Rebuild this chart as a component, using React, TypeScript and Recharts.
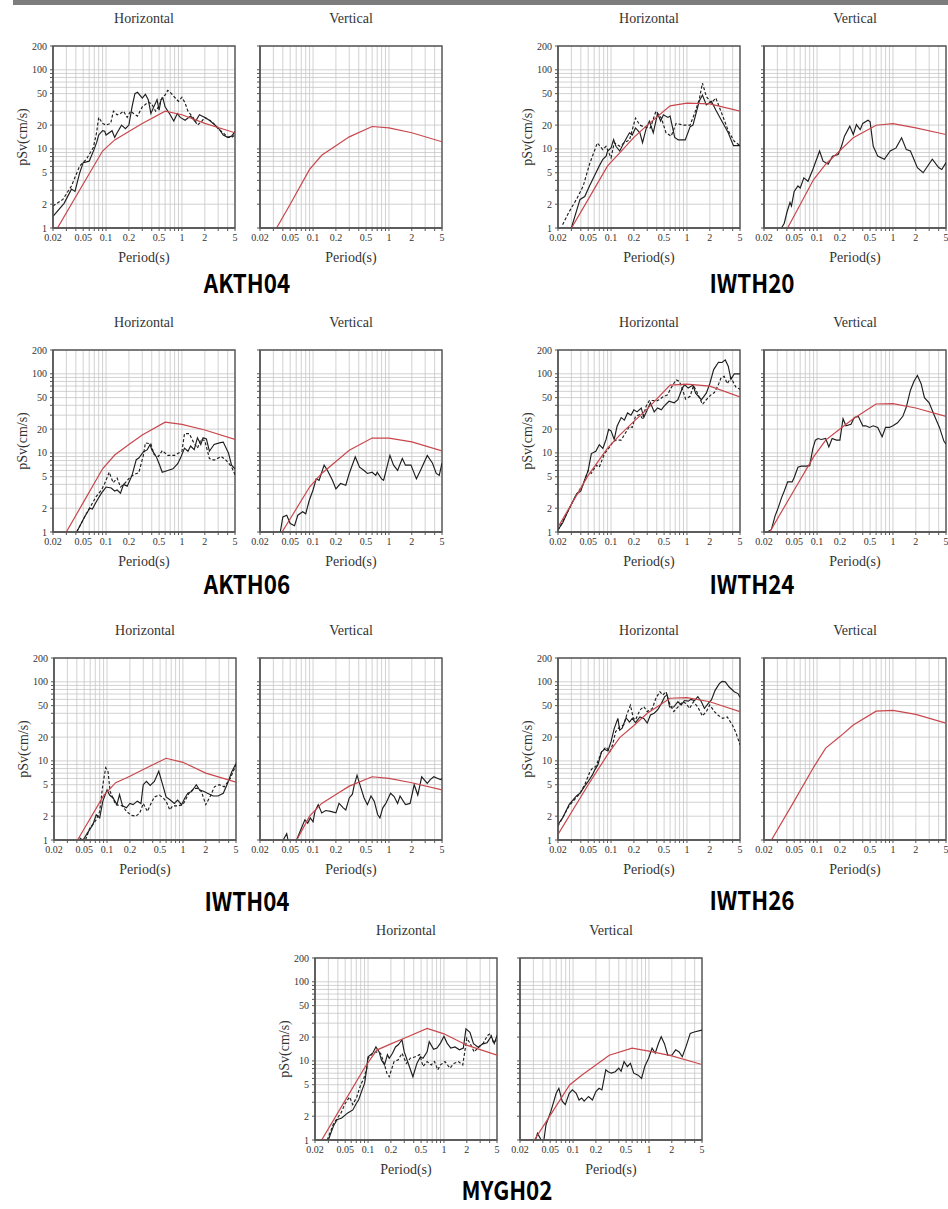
import { LineChart, Line, XAxis, YAxis, CartesianGrid, ReferenceArea } from "recharts";

type Pt = [number, number];

const SERIF = '"Liberation Serif", "DejaVu Serif", serif';
const GOTHIC = '"Noto Sans CJK JP", "Noto Sans", sans-serif';

// axes (log-log)
const X_GRID = [0.02, 0.03, 0.04, 0.05, 0.06, 0.07, 0.08, 0.09, 0.1, 0.2, 0.3, 0.4, 0.5, 0.6, 0.7, 0.8, 0.9, 1, 2, 3, 4, 5];
const X_LABELS = [0.02, 0.05, 0.1, 0.2, 0.5, 1, 2, 5];
const Y_GRID = [1, 2, 3, 4, 5, 6, 7, 8, 9, 10, 20, 30, 40, 50, 60, 70, 80, 90, 100, 200];
const Y_LABELS = [1, 2, 5, 10, 20, 50, 100, 200];

// model spectra (red), shared periods
const RED_T = [0.02, 0.05, 0.09, 0.13, 0.2, 0.3, 0.6, 1, 2, 5];
const AKTH04_H_RED = [0.8, 3.6, 9.4, 13, 16.6, 21, 30, 27, 21, 16];
const AKTH04_V_RED = [0.43, 2.0, 5.5, 8.3, 11, 14.2, 19.2, 18.4, 16, 12.3];
const IWTH20_H_RED = [0.51, 2.3, 6.1, 8.9, 14, 20, 35, 38, 37, 30];
const IWTH20_V_RED = [0.28, 1.43, 4.1, 6.4, 9.5, 13.8, 19.9, 20.9, 18.4, 15.2];
const AKTH06_H_RED = [0.51, 2.35, 6.3, 9.4, 12.8, 16.8, 24.5, 23, 19.5, 14.8];
const AKTH06_V_RED = [0.35, 1.47, 3.7, 5.5, 7.8, 10.8, 15.4, 15.4, 13.8, 10.6];
const IWTH24_H_RED = [1.15, 5.2, 11.5, 16.8, 25, 36, 72, 74, 70, 51];
const IWTH24_V_RED = [0.75, 3.4, 8.9, 14.5, 20, 27, 41.5, 42, 37, 29];
const IWTH04_H_RED = [0.31, 1.39, 3.63, 5.3, 6.4, 7.8, 10.8, 9.6, 7, 5.4];
const IWTH04_V_RED = [0.14, 0.7, 2.0, 2.9, 3.76, 4.8, 6.3, 6, 5.3, 4.3];
const IWTH26_H_RED = [1.18, 5, 12, 19.7, 28, 40, 62, 63, 56, 42];
const IWTH26_V_RED = [0.69, 3.1, 8.3, 14.5, 20.3, 28.5, 42.6, 43.5, 38.7, 30];
const MYGH02_H_RED = [0.72, 3.17, 8.2, 13.7, 16.4, 19.3, 25.7, 22, 15.8, 11.8];
const MYGH02_V_RED = [0.52, 2.05, 4.96, 6.6, 8.9, 11.8, 14.5, 13.3, 11.6, 9];

// observed spectra: [period, pSv]
const AKTH04_H1: Pt[] = [[0.02,1.4],[0.028,2.05],[0.035,3.1],[0.039,2.9],[0.045,5],[0.05,6.7],[0.06,7],[0.07,10],[0.075,12],[0.08,15],[0.09,17],[0.096,16.7],[0.1,15],[0.12,17],[0.13,14],[0.14,16],[0.16,20],[0.18,18],[0.2,20],[0.22,34],[0.24,50],[0.26,52],[0.3,44],[0.33,49],[0.36,42],[0.39,28],[0.42,33],[0.47,42],[0.5,31],[0.53,42],[0.56,44],[0.6,34],[0.7,27],[0.78,22.5],[0.87,28],[0.95,25],[1.1,23],[1.3,26],[1.5,22],[1.7,27],[2,25],[2.3,23],[3,18.5],[3.5,15],[4,14],[4.5,14.5],[5,16.5]];
const AKTH04_H2: Pt[] = [[0.02,1.9],[0.027,2.3],[0.035,3.4],[0.045,6.1],[0.055,7.4],[0.068,10.4],[0.075,16],[0.08,25],[0.09,21],[0.1,20],[0.115,21],[0.125,30],[0.14,27],[0.155,28],[0.17,30],[0.19,25],[0.21,30],[0.23,28],[0.26,26],[0.3,34],[0.36,39],[0.4,37],[0.45,30],[0.5,35],[0.55,45],[0.6,48],[0.65,55],[0.7,52],[0.8,45],[0.9,40],[1,45],[1.1,38],[1.2,30],[1.4,25],[1.6,20],[1.8,22],[2,25],[2.5,22],[3,18],[3.5,16],[4,14],[4.5,14],[5,15]];

const IWTH20_H1: Pt[] = [[0.03,1],[0.039,2.3],[0.045,2.5],[0.052,3.4],[0.06,4.5],[0.07,6.1],[0.078,7.4],[0.086,8.1],[0.09,9.4],[0.1,10.3],[0.108,13.1],[0.116,10.8],[0.13,9.4],[0.14,10.8],[0.16,13.7],[0.175,16],[0.19,15],[0.21,18.4],[0.24,16],[0.26,12],[0.29,18],[0.32,22.5],[0.36,16],[0.41,28],[0.45,22.5],[0.49,27],[0.56,25],[0.6,26],[0.69,14],[0.77,13],[0.95,13],[1.1,19],[1.2,20],[1.45,40],[1.6,48],[1.8,36],[2.1,40],[2.4,31],[3,21],[3.5,16],[4.1,11],[5,11]];
const IWTH20_H2: Pt[] = [[0.023,1.1],[0.028,1.6],[0.035,2.3],[0.043,3.4],[0.052,6.4],[0.066,11.9],[0.078,9.8],[0.086,10.8],[0.1,7.7],[0.11,12],[0.13,10.8],[0.15,12],[0.175,13],[0.21,24.5],[0.24,20],[0.27,19],[0.33,18.4],[0.39,30],[0.46,24.5],[0.53,16],[0.62,14.5],[0.72,21],[0.9,20],[1.1,20],[1.26,28],[1.45,42],[1.6,68],[1.8,46],[2.1,38],[2.4,44],[2.8,30],[3.5,17],[4.2,12.5],[5,11]];
const IWTH20_V1: Pt[] = [[0.034,1],[0.037,1.15],[0.04,1.57],[0.044,2.1],[0.046,1.9],[0.05,2.9],[0.056,3.4],[0.06,3.2],[0.067,4.3],[0.076,3.9],[0.088,5.5],[0.108,9.4],[0.12,7],[0.14,6.4],[0.16,8.1],[0.19,8.5],[0.21,10.8],[0.23,14.5],[0.27,19.4],[0.3,15.2],[0.33,20.3],[0.37,17.5],[0.4,21],[0.47,23],[0.5,22],[0.55,10.8],[0.63,8.1],[0.77,7.4],[0.92,9.4],[1.1,10.3],[1.3,13.8],[1.5,9.8],[1.7,9.4],[2.1,5.8],[2.5,5],[3.3,7.4],[4,5.8],[4.4,5.5],[5,6.7]];

const AKTH06_H1: Pt[] = [[0.041,1],[0.045,1.18],[0.052,1.55],[0.061,2],[0.066,1.95],[0.074,2.4],[0.087,3.1],[0.1,3.7],[0.117,3.6],[0.13,3.3],[0.14,3.4],[0.155,3.1],[0.17,4],[0.19,3.8],[0.22,5.2],[0.25,8.2],[0.27,8.6],[0.31,10.3],[0.35,11],[0.38,12.8],[0.4,11],[0.46,8.9],[0.5,7.3],[0.55,5.7],[0.65,6],[0.76,6.3],[0.88,7.3],[0.97,8.9],[1.08,11.5],[1.2,10.5],[1.3,12.2],[1.45,11],[1.6,15.5],[1.77,12.8],[1.9,15.5],[2.1,15],[2.3,10.5],[2.65,12.8],[3.2,13.5],[3.5,13.7],[4.1,10],[4.5,7],[5,6.3]];
const AKTH06_H2: Pt[] = [[0.041,1],[0.055,1.7],[0.074,2.8],[0.087,3.4],[0.095,4],[0.11,5.7],[0.124,4.2],[0.14,4.8],[0.155,3.7],[0.18,4.2],[0.21,5],[0.24,5.4],[0.27,5.6],[0.31,9.3],[0.33,13.4],[0.39,13],[0.43,9.5],[0.49,9],[0.55,10.7],[0.65,9.3],[0.8,9.3],[1,10.5],[1.08,17.5],[1.25,17.5],[1.4,14],[1.6,11.5],[1.78,14.8],[2,14.3],[2.3,8.5],[2.65,8.1],[3.3,9],[3.8,8.1],[4.5,6.7],[5,5.3]];
const AKTH06_V1: Pt[] = [[0.037,1],[0.04,1.55],[0.045,1.63],[0.05,1.28],[0.057,1.2],[0.063,1.63],[0.073,1.8],[0.08,1.7],[0.089,2.5],[0.1,3.4],[0.11,4.7],[0.12,4.5],[0.14,7],[0.155,6],[0.18,4.5],[0.2,3.5],[0.23,4.1],[0.27,3.9],[0.3,5.5],[0.36,8.9],[0.41,6.6],[0.47,6],[0.52,5.5],[0.6,5.7],[0.67,5.2],[0.7,5.7],[0.8,4.7],[0.85,4.5],[1.03,9.3],[1.15,7],[1.3,6],[1.5,8.5],[1.65,7],[1.95,7],[2.3,4.7],[2.6,6],[3.2,9.3],[3.75,7.4],[4.2,5.5],[4.6,5.2],[5,7.4]];

const IWTH24_H1: Pt[] = [[0.02,1.07],[0.023,1.3],[0.028,1.97],[0.035,3],[0.04,3.3],[0.045,4.6],[0.05,6],[0.055,9.8],[0.063,10.5],[0.07,12.7],[0.078,11.4],[0.086,14.8],[0.093,19.8],[0.1,19],[0.11,14.8],[0.12,21.7],[0.136,28],[0.15,26],[0.165,32],[0.183,30],[0.2,35],[0.22,33],[0.25,37],[0.27,28],[0.3,35],[0.33,43],[0.37,33],[0.41,37],[0.46,35],[0.5,39],[0.58,45],[0.68,43],[0.76,47],[0.87,66],[0.93,73],[1.04,66],[1.2,72],[1.3,57],[1.55,47],[1.8,57],[2,75],[2.25,113],[2.6,140],[2.9,139],[3.2,150],[3.5,125],[3.8,85],[4.2,100],[5,100]];
const IWTH24_H2: Pt[] = [[0.02,1.05],[0.026,1.7],[0.035,3],[0.043,4],[0.05,6],[0.055,5.5],[0.064,7],[0.07,6.6],[0.082,9.8],[0.096,11.9],[0.106,13.8],[0.116,14.5],[0.136,14.5],[0.15,17],[0.175,21.7],[0.19,21],[0.21,29],[0.24,30.6],[0.26,27],[0.29,39],[0.32,46],[0.36,46],[0.39,45],[0.43,47],[0.48,51],[0.55,54],[0.65,72],[0.72,84],[0.8,80],[0.9,58],[0.96,48],[1.1,52],[1.22,71],[1.34,60],[1.6,41],[1.8,47],[2.1,55],[2.3,58],[2.6,73],[2.8,88],[3.1,93],[3.4,75],[3.8,90],[4.4,68],[5,64]];
const IWTH24_V1: Pt[] = [[0.022,1],[0.025,1.07],[0.028,1.6],[0.031,2.06],[0.034,2.7],[0.037,3.3],[0.041,4.3],[0.047,4.3],[0.05,4.9],[0.056,6.6],[0.062,6.8],[0.072,6.8],[0.08,6.9],[0.088,11.3],[0.095,14.5],[0.103,15.2],[0.114,14.8],[0.13,15.2],[0.143,11.9],[0.158,15.2],[0.18,14.5],[0.2,14.5],[0.22,27],[0.24,22],[0.28,23],[0.31,28],[0.35,29],[0.4,22],[0.44,22],[0.49,21],[0.55,22],[0.63,21],[0.72,16],[0.8,21],[0.9,21],[1,22],[1.15,24],[1.35,29],[1.5,38],[1.7,62],[1.9,81],[2.1,95],[2.35,75],[2.6,50],[3,43],[3.5,30],[4.1,21],[4.7,14],[5,13]];

const IWTH04_H1: Pt[] = [[0.043,1.08],[0.047,1],[0.05,1.05],[0.055,1.22],[0.065,1.56],[0.072,2.08],[0.08,1.9],[0.088,3.1],[0.1,4.3],[0.108,3.7],[0.12,3.4],[0.135,2.8],[0.146,3.75],[0.16,2.7],[0.18,2.55],[0.2,2.9],[0.22,2.8],[0.25,3.1],[0.28,2.9],[0.3,5],[0.33,5.5],[0.37,4.9],[0.42,5.5],[0.48,7.4],[0.54,5],[0.6,3.5],[0.68,3.2],[0.77,2.9],[0.85,3.2],[0.96,2.8],[1.06,3.4],[1.16,3.9],[1.3,4.1],[1.5,5],[1.65,4.3],[1.9,4.1],[2.1,3.9],[2.5,3.6],[2.9,3.6],[3.4,3.9],[3.9,5.3],[4.4,7.3],[5,9.3]];
const IWTH04_H2: Pt[] = [[0.045,1],[0.052,1],[0.059,1.4],[0.072,1.8],[0.08,2.3],[0.088,5],[0.096,8.2],[0.103,7.3],[0.11,4.1],[0.13,2.8],[0.16,2.7],[0.18,2.3],[0.21,2.05],[0.24,2],[0.27,2.2],[0.3,2.9],[0.34,2.3],[0.38,2.9],[0.42,3.5],[0.49,3.7],[0.55,3.4],[0.6,3.1],[0.67,2.4],[0.73,2.7],[0.86,2.7],[1,2.8],[1.2,3.9],[1.4,4.5],[1.55,4.5],[1.75,4.1],[2,2.8],[2.3,3.6],[2.6,4.7],[3,5],[3.5,4.7],[4.2,6],[5,8.9]];
const IWTH04_V1: Pt[] = [[0.038,0.9],[0.045,1.2],[0.049,0.8],[0.055,0.75],[0.062,1.05],[0.07,1.4],[0.078,1.8],[0.085,1.63],[0.092,1.9],[0.1,1.7],[0.106,2.3],[0.117,2.8],[0.13,2.2],[0.147,2.36],[0.17,2.3],[0.2,2.2],[0.22,2.9],[0.25,2.55],[0.27,2.4],[0.3,3.4],[0.33,3.8],[0.35,5],[0.38,6.6],[0.42,4.8],[0.47,3.4],[0.52,2.8],[0.58,3.6],[0.64,3.1],[0.71,2.1],[0.76,1.9],[0.83,2.55],[0.91,2.9],[1.05,3.9],[1.17,3.55],[1.3,2.9],[1.4,3.6],[1.65,2.8],[1.9,2.9],[2.15,5],[2.4,3.7],[2.7,6.3],[3.2,5.2],[3.5,5.8],[3.9,6.3],[4.4,6],[4.8,5.8],[5,6]];

const IWTH26_H1: Pt[] = [[0.02,1.57],[0.023,1.9],[0.028,2.8],[0.035,3.6],[0.039,3.9],[0.045,4.8],[0.05,5.5],[0.057,6.7],[0.061,7.7],[0.067,8.9],[0.075,13],[0.082,14],[0.091,13.4],[0.1,17.5],[0.11,25.6],[0.123,34.5],[0.13,24.5],[0.14,26],[0.158,35],[0.175,31],[0.19,34.5],[0.21,30.5],[0.24,36],[0.27,34.5],[0.3,30],[0.33,38],[0.37,40],[0.41,44],[0.46,53],[0.51,65],[0.55,68],[0.59,48],[0.67,48],[0.76,56],[0.84,51],[0.93,58],[1.04,57],[1.13,60],[1.26,58],[1.39,65],[1.55,56],[1.7,46],[1.9,53],[2.1,59],[2.35,78],[2.67,95],[2.9,101],[3.2,100],[3.6,86],[4.2,75],[4.7,71],[5,64]];
const IWTH26_H2: Pt[] = [[0.02,1.5],[0.028,2.7],[0.039,3.9],[0.045,5],[0.053,7.4],[0.057,8.1],[0.063,8.5],[0.075,13],[0.086,15],[0.096,13],[0.105,16],[0.115,23.5],[0.13,27],[0.147,28.5],[0.16,37.7],[0.18,50.6],[0.197,34.5],[0.21,33],[0.24,44],[0.27,48.5],[0.3,42],[0.35,46],[0.39,62],[0.44,75],[0.48,68],[0.53,75],[0.59,53],[0.67,42],[0.76,48],[0.88,56],[0.98,53],[1.08,46],[1.22,56],[1.39,48],[1.6,37],[1.8,42],[2,51],[2.3,42],[2.55,38],[2.95,34.5],[3.4,36],[4,28],[4.4,23],[5,16]];

const MYGH02_H1: Pt[] = [[0.03,1],[0.035,1.5],[0.039,1.8],[0.045,1.9],[0.054,2.2],[0.063,2.4],[0.07,2.9],[0.075,3.2],[0.085,4.5],[0.09,5.2],[0.096,8],[0.1,11.3],[0.115,12.5],[0.127,15],[0.14,13],[0.15,10.3],[0.165,8.9],[0.18,12],[0.19,10.8],[0.21,12.5],[0.23,15],[0.25,16],[0.28,18.5],[0.3,13],[0.35,8.5],[0.39,6.3],[0.44,9.3],[0.49,11.3],[0.53,10.8],[0.6,13],[0.64,17.5],[0.73,14],[0.81,14.5],[0.9,16.8],[1,20.5],[1.1,16.8],[1.23,14.5],[1.4,15],[1.6,13.8],[1.8,14.5],[1.95,25.4],[2.2,23],[2.45,16.5],[2.85,14.8],[3.2,16.3],[3.7,17],[4.2,20.5],[4.6,16.5],[5,21]];
const MYGH02_H2: Pt[] = [[0.029,1],[0.035,1.6],[0.044,2.2],[0.05,2.9],[0.057,3.5],[0.063,2.8],[0.071,3.5],[0.08,5],[0.088,6],[0.096,8],[0.1,10.8],[0.116,12.5],[0.128,13],[0.146,12.5],[0.163,9.3],[0.177,7],[0.19,6.3],[0.22,9.8],[0.25,10.3],[0.28,12.5],[0.32,9.3],[0.36,10.8],[0.42,11.3],[0.48,12],[0.53,8.5],[0.6,9.8],[0.68,8.9],[0.75,9.8],[0.83,7.7],[0.9,8.9],[1.03,9.8],[1.2,8.1],[1.35,9.3],[1.55,9.8],[1.77,8.9],[2,19.4],[2.2,16.8],[2.5,13],[2.85,15],[3.3,16.8],[3.75,21],[4.1,22.3],[4.5,16.8],[5,19]];
const MYGH02_V1: Pt[] = [[0.031,0.9],[0.034,1.22],[0.038,1],[0.041,0.95],[0.044,1.56],[0.051,2.3],[0.06,3.9],[0.065,4.5],[0.072,3.1],[0.079,2.8],[0.089,3.9],[0.098,4.3],[0.11,3.9],[0.12,3.2],[0.13,3.4],[0.14,3.1],[0.16,3.55],[0.18,3.2],[0.2,4.1],[0.22,4.5],[0.24,4.3],[0.27,7.7],[0.29,7.3],[0.32,7],[0.36,7.3],[0.4,8.1],[0.43,7.4],[0.47,9.8],[0.52,8.5],[0.57,9.3],[0.63,7],[0.72,6.6],[0.8,6],[0.88,8.5],[0.99,10.8],[1.1,14.5],[1.21,12.5],[1.33,16.5],[1.45,20.2],[1.6,16.5],[1.77,11.8],[2,11.8],[2.25,13.8],[2.5,13],[2.75,11.3],[3.1,15.5],[3.5,22.3],[3.95,23.2],[5,24.5]];

type Station = {
  name: string;
  hLeft: number;
  vLeft: number;
  top: number;
  labelX: number;
  labelY: number;
  h: Pt[][];
  hRed: number[];
  v: Pt[][];
  vRed: number[];
};

const STATIONS: Station[] = [
  { name: "AKTH04", hLeft: 53, vLeft: 260, top: 46, labelX: 247, labelY: 282, h: [AKTH04_H1, AKTH04_H2], hRed: AKTH04_H_RED, v: [], vRed: AKTH04_V_RED },
  { name: "IWTH20", hLeft: 558, vLeft: 764, top: 46, labelX: 752, labelY: 282, h: [IWTH20_H1, IWTH20_H2], hRed: IWTH20_H_RED, v: [IWTH20_V1], vRed: IWTH20_V_RED },
  { name: "AKTH06", hLeft: 53, vLeft: 260, top: 350, labelX: 247, labelY: 583, h: [AKTH06_H1, AKTH06_H2], hRed: AKTH06_H_RED, v: [AKTH06_V1], vRed: AKTH06_V_RED },
  { name: "IWTH24", hLeft: 558, vLeft: 764, top: 350, labelX: 752, labelY: 583, h: [IWTH24_H1, IWTH24_H2], hRed: IWTH24_H_RED, v: [IWTH24_V1], vRed: IWTH24_V_RED },
  { name: "IWTH04", hLeft: 54, vLeft: 260, top: 658, labelX: 247, labelY: 900, h: [IWTH04_H1, IWTH04_H2], hRed: IWTH04_H_RED, v: [IWTH04_V1], vRed: IWTH04_V_RED },
  { name: "IWTH26", hLeft: 558, vLeft: 764, top: 658, labelX: 752, labelY: 899, h: [IWTH26_H1, IWTH26_H2], hRed: IWTH26_H_RED, v: [], vRed: IWTH26_V_RED },
  { name: "MYGH02", hLeft: 315, vLeft: 520, top: 958, labelX: 507, labelY: 1189, h: [MYGH02_H1, MYGH02_H2], hRed: MYGH02_H_RED, v: [MYGH02_V1], vRed: MYGH02_V_RED },
];

const PW = 182;
const PH = 182;
const ML = 10;
const YW = 40;
const MT = 6;
const XH = 40;

const fmtX = (v: number) => (X_LABELS.includes(v) ? String(v) : "");
const fmtY = (v: number) => (Y_LABELS.includes(v) ? String(v) : "");

function Panel({ left, top, title, curves, red, yLabel }: { left: number; top: number; title: string; curves: Pt[][]; red: number[]; yLabel: boolean }) {
  const redData = RED_T.map((t, i) => ({ t, v: red[i] }));
  const tickStyle = { fontSize: 10, fill: "#333", fontFamily: SERIF };
  return (
    <>
      <div
        style={{
          position: "absolute",
          left,
          top: top - 37,
          width: PW,
          textAlign: "center",
          fontFamily: SERIF,
          fontSize: 14,
          lineHeight: "20px",
          color: "#333",
        }}
      >
        {title}
      </div>
      <div style={{ position: "absolute", left: left - ML - YW, top: top - MT }}>
        <LineChart width={ML + YW + PW + 6} height={MT + PH + XH + 4} margin={{ top: MT, right: 6, bottom: 4, left: ML }}>
          <CartesianGrid stroke="#c6c6c6" strokeWidth={0.8} />
          <XAxis
            dataKey="t"
            type="number"
            scale="log"
            domain={[0.02, 5]}
            allowDataOverflow
            ticks={X_GRID}
            interval={0}
            tickFormatter={fmtX}
            tick={tickStyle}
            tickSize={3}
            tickMargin={3}
            tickLine={{ stroke: "#555" }}
            axisLine={{ stroke: "#555", strokeWidth: 1.4 }}
            height={XH}
            label={{ value: "Period(s)", position: "insideBottom", offset: 6, style: { fontSize: 14, fontFamily: SERIF, fill: "#333" } }}
          />
          <YAxis
            dataKey="v"
            type="number"
            scale="log"
            domain={[1, 200]}
            allowDataOverflow
            ticks={Y_GRID}
            interval={0}
            tickFormatter={yLabel ? fmtY : () => ""}
            tick={tickStyle}
            tickSize={3}
            tickMargin={3}
            tickLine={{ stroke: "#555" }}
            axisLine={{ stroke: "#555", strokeWidth: 1.4 }}
            width={YW}
            label={
              yLabel
                ? {
                    value: "pSv(cm/s)",
                    angle: -90,
                    position: "insideLeft",
                    offset: 9,
                    style: { textAnchor: "middle", fontSize: 14, fontFamily: SERIF, fill: "#333" },
                  }
                : undefined
            }
          />
          <ReferenceArea x1={0.02} x2={5} y1={1} y2={200} fill="none" stroke="#555" strokeWidth={1.4} ifOverflow="visible" />
          {curves.map((c, i) => (
            <Line
              key={i}
              data={c.map(([t, v]) => ({ t, v }))}
              dataKey="v"
              type="linear"
              stroke="#1e1e1e"
              strokeWidth={1.15}
              strokeDasharray={i === 1 ? "3 2" : undefined}
              dot={false}
              isAnimationActive={false}
            />
          ))}
          <Line data={redData} dataKey="v" type="linear" stroke="#c9474c" strokeWidth={1.2} dot={false} isAnimationActive={false} />
        </LineChart>
      </div>
    </>
  );
}

export default function App() {
  return (
    <div style={{ position: "absolute", left: 0, top: 0, width: 948, height: 1209, overflow: "hidden", background: "#fff" }}>
      <div style={{ position: "absolute", left: 13, top: 0, width: 935, height: 5, background: "#7d7d7d" }} />
      {STATIONS.map((s) => (
        <div key={s.name}>
          <Panel left={s.hLeft} top={s.top} title="Horizontal" curves={s.h} red={s.hRed} yLabel />
          <Panel left={s.vLeft} top={s.top} title="Vertical" curves={s.v} red={s.vRed} yLabel={false} />
          <div
            style={{
              position: "absolute",
              left: s.labelX - 100,
              top: s.labelY - 11,
              width: 200,
              textAlign: "center",
              fontFamily: GOTHIC,
              fontWeight: 700,
              fontSize: 26,
              lineHeight: "22px",
              color: "#000",
              transform: "scaleX(0.86)",
            }}
          >
            {s.name}
          </div>
        </div>
      ))}
    </div>
  );
}
